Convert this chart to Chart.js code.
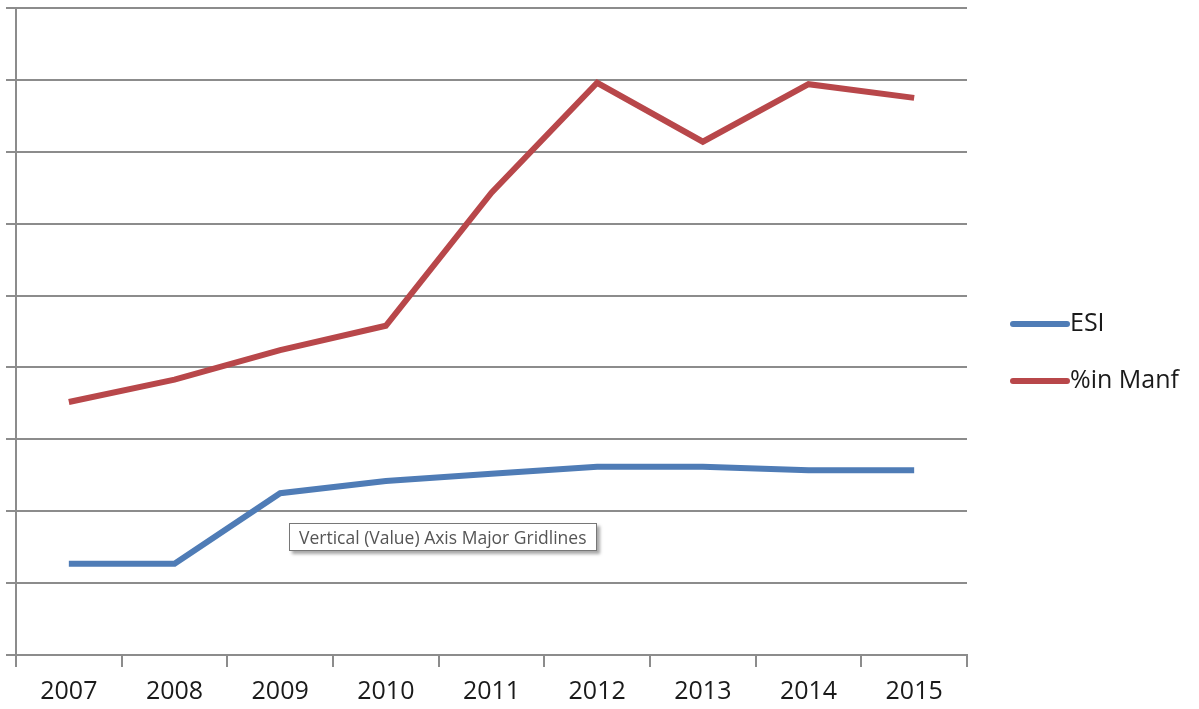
<!DOCTYPE html>
<html>
<head>
<meta charset="utf-8">
<script src="https://cdn.jsdelivr.net/npm/chart.js@4/dist/chart.umd.min.js"></script>
<style>
  html, body { margin: 0; padding: 0; background: #fff; }
  #wrap { position: relative; width: 1199px; height: 709px; }
  #tip {
    position: absolute; left: 289px; top: 523px; height: 26px; padding: 0 9px;
    border: 1px solid #777; background: #fff; color: #555;
    font: 17.5px "Open Sans", sans-serif; line-height: 26px; white-space: nowrap;
    box-shadow: 3px 3px 3px rgba(0,0,0,0.35);
  }
</style>
</head>
<body>
<div id="wrap">
  <canvas id="c" width="1199" height="709"></canvas>
  <div id="tip">Vertical (Value) Axis Major Gridlines</div>
</div>
<script>
const years = ['2007', '2008', '2009', '2010', '2011', '2012', '2013', '2014', '2015'];
const esi = [1.27, 1.27, 2.25, 2.42, 2.52, 2.62, 2.62, 2.57, 2.57];
const manf = [3.52, 3.83, 4.24, 4.58, 6.43, 7.96, 7.14, 7.94, 7.75];

const gridColor = '#8c8c8c';

// legend drawn to the right, like the office chart
const sideLegend = {
    id: 'sideLegend',
    afterDraw(chart) {
        const ctx = chart.ctx;
        const rows = [324, 381];
        ctx.save();
        chart.data.datasets.forEach((ds, i) => {
            const y = rows[i];
            ctx.strokeStyle = ds.borderColor;
            ctx.lineWidth = 6;
            ctx.lineCap = 'round';
            ctx.beginPath();
            ctx.moveTo(1013, y);
            ctx.lineTo(1067, y);
            ctx.stroke();
            ctx.fillStyle = '#1a1a1a';
            ctx.font = '25px "Open Sans"';
            ctx.textBaseline = 'middle';
            ctx.fillText(ds.label, 1070, y);
        });
        ctx.restore();
    }
};

new Chart(document.getElementById('c'), {
    type: 'line',
    data: {
        labels: years,
        datasets: [
            { label: 'ESI', data: esi, borderColor: '#4f7cb6', borderWidth: 6, pointRadius: 0, tension: 0 },
            { label: '%in Manf', data: manf, borderColor: '#b8474a', borderWidth: 6, pointRadius: 0, tension: 0 }
        ]
    },
    options: {
        responsive: false,
        animation: false,
        layout: { padding: { left: 6, top: 8, right: 232, bottom: -8 } },
        plugins: { legend: { display: false }, tooltip: { enabled: false } },
        scales: {
            x: {
                offset: true,
                grid: { offset: true, drawOnChartArea: false, color: gridColor, lineWidth: 2, tickLength: 12 },
                border: { color: gridColor, width: 2 },
                ticks: { color: '#1a1a1a', padding: 10, font: { family: 'Open Sans', size: 25 } }
            },
            y: {
                min: 0, max: 9,
                ticks: { display: false, stepSize: 1 },
                grid: { color: gridColor, lineWidth: 2, tickLength: 10 },
                border: { color: gridColor, width: 2 }
            }
        }
    },
    plugins: [sideLegend]
});
</script>
</body>
</html>
